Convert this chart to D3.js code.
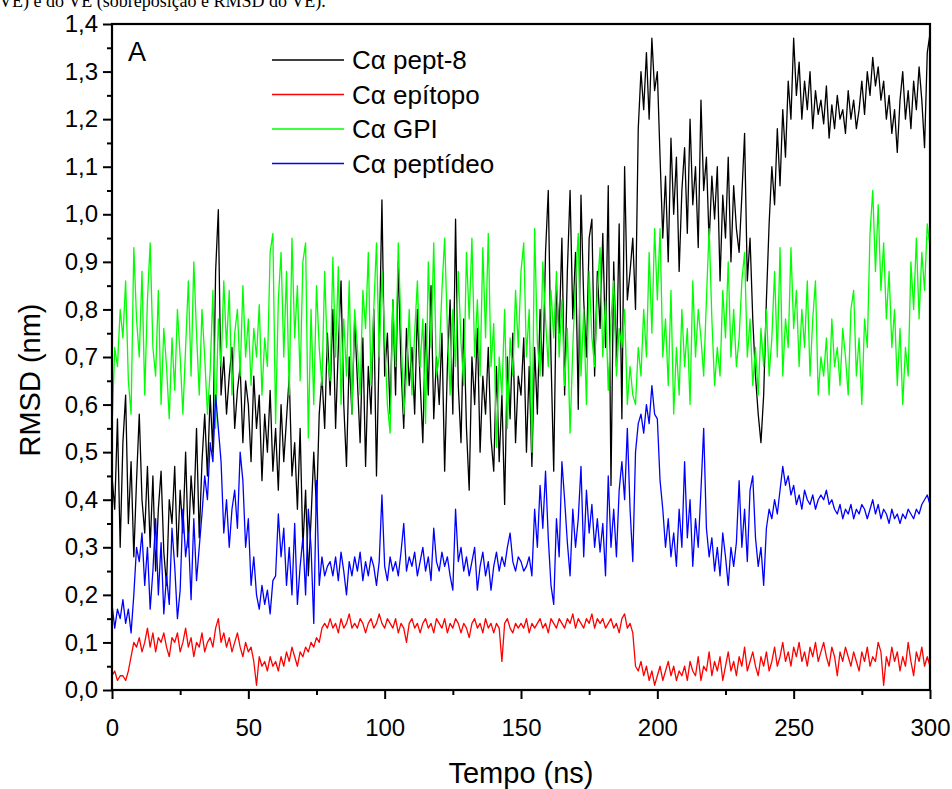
<!DOCTYPE html>
<html lang="pt">
<head>
<meta charset="UTF-8">
<title>RMSD (nm) x Tempo (ns)</title>
<script src="https://d3js.org/d3.v7.min.js"></script>
<style>
  body { margin: 0; background: #fff; }
  svg { display: block; font-family: 'Liberation Sans', Arial, sans-serif; }
  .axis text { font-size: 24px; fill: #000; }
  .axis path, .axis line { stroke: #000; stroke-width: 2px; }
</style>
</head>
<body>
<div id="chart"></div>
<script>
// time step between samples (ns)
const dt = 1;

// Cα pept-8 (nm), one value per ns, 0..300
const pept8 = [
  0.45,0.38,0.57,0.30,0.52,0.62,0.35,0.48,0.28,0.44,
  0.58,0.40,0.33,0.47,0.30,0.45,0.25,0.38,0.46,0.29,
  0.22,0.40,0.35,0.47,0.28,0.42,0.33,0.50,0.30,0.45,
  0.37,0.55,0.32,0.48,0.58,0.45,0.62,0.50,0.88,1.01,
  0.62,0.70,0.58,0.66,0.72,0.55,0.63,0.68,0.52,0.65,
  0.60,0.48,0.66,0.55,0.62,0.44,0.58,0.50,0.63,0.46,
  0.55,0.42,0.60,0.48,0.57,0.66,0.45,0.52,0.38,0.55,
  0.30,0.42,0.24,0.36,0.50,0.38,0.58,0.66,0.55,0.75,
  0.62,0.80,0.55,0.72,0.86,0.60,0.47,0.70,0.58,0.78,
  0.65,0.52,0.74,0.47,0.68,0.58,0.80,0.45,0.72,1.03,
  0.66,0.75,0.58,0.82,0.62,0.90,0.68,0.55,0.76,0.64,
  0.72,0.58,0.80,0.65,0.52,0.77,0.62,0.85,0.57,0.70,
  0.60,0.75,0.46,0.68,0.82,0.58,0.99,0.64,0.52,0.78,
  0.55,0.42,0.70,0.60,0.76,0.50,0.66,0.58,0.72,0.53,
  0.46,0.68,0.48,0.62,0.39,0.70,0.57,0.75,0.52,0.66,
  0.62,0.74,0.50,0.68,0.47,0.72,0.58,0.80,0.66,0.92,
  1.05,0.70,0.46,0.85,0.75,0.95,0.62,0.88,1.05,0.78,
  0.92,0.59,1.04,0.82,0.70,0.95,0.99,0.66,0.88,0.76,
  0.96,0.72,1.06,0.43,0.90,0.68,0.98,0.57,1.10,0.82,
  0.88,0.95,0.80,1.18,1.30,1.22,1.34,1.20,1.37,1.26,
  1.30,1.12,0.95,1.08,0.90,1.16,1.00,1.12,0.88,1.05,
  1.14,0.96,1.20,1.02,1.10,0.93,1.24,1.05,1.12,0.94,
  1.08,0.99,1.10,0.86,1.04,0.95,1.12,0.90,1.06,0.97,
  0.92,1.04,1.17,0.86,0.95,0.78,0.66,0.58,0.52,0.62,
  0.82,0.98,1.10,1.02,1.18,1.06,1.22,1.12,1.28,1.20,
  1.37,1.25,1.32,1.20,1.28,1.22,1.30,1.18,1.26,1.21,
  1.24,1.19,1.27,1.16,1.23,1.18,1.25,1.20,1.22,1.17,
  1.26,1.20,1.24,1.18,1.22,1.28,1.21,1.30,1.25,1.33,
  1.27,1.31,1.24,1.28,1.20,1.25,1.17,1.22,1.13,1.24,
  1.30,1.20,1.26,1.18,1.28,1.22,1.31,1.24,1.14,1.34,
  1.38
];

// Cα epítopo (nm)
const epitopo = [
  0.03,0.04,0.02,0.03,0.03,0.02,0.04,0.07,0.10,0.09,
  0.11,0.08,0.10,0.13,0.09,0.12,0.08,0.11,0.10,0.12,
  0.09,0.07,0.11,0.10,0.12,0.08,0.10,0.13,0.09,0.11,
  0.07,0.10,0.09,0.12,0.08,0.10,0.11,0.09,0.13,0.15,
  0.10,0.12,0.09,0.11,0.08,0.10,0.12,0.09,0.07,0.10,
  0.08,0.09,0.06,0.01,0.07,0.05,0.06,0.04,0.07,0.05,
  0.06,0.04,0.07,0.05,0.08,0.06,0.09,0.07,0.05,0.08,
  0.07,0.09,0.08,0.10,0.09,0.11,0.10,0.13,0.14,0.13,
  0.15,0.13,0.14,0.12,0.15,0.13,0.14,0.16,0.13,0.14,
  0.13,0.15,0.14,0.12,0.14,0.15,0.13,0.14,0.16,0.14,
  0.13,0.15,0.14,0.13,0.15,0.12,0.14,0.13,0.10,0.14,
  0.15,0.13,0.14,0.12,0.14,0.15,0.13,0.14,0.12,0.15,
  0.14,0.13,0.15,0.12,0.14,0.13,0.15,0.14,0.12,0.14,
  0.13,0.11,0.14,0.15,0.13,0.14,0.12,0.15,0.13,0.14,
  0.12,0.14,0.13,0.06,0.14,0.15,0.13,0.12,0.14,0.13,
  0.14,0.13,0.15,0.12,0.14,0.13,0.14,0.15,0.13,0.14,
  0.12,0.15,0.14,0.13,0.15,0.14,0.13,0.15,0.14,0.16,
  0.13,0.15,0.14,0.13,0.15,0.14,0.16,0.13,0.15,0.14,
  0.15,0.13,0.14,0.15,0.13,0.14,0.12,0.15,0.16,0.13,
  0.14,0.12,0.05,0.04,0.06,0.03,0.05,0.02,0.04,0.01,
  0.03,0.05,0.02,0.04,0.06,0.03,0.05,0.02,0.04,0.03,
  0.05,0.02,0.06,0.04,0.03,0.07,0.02,0.05,0.04,0.08,
  0.03,0.06,0.04,0.07,0.02,0.05,0.08,0.04,0.06,0.03,
  0.07,0.05,0.09,0.04,0.06,0.08,0.05,0.03,0.07,0.05,
  0.08,0.04,0.06,0.09,0.05,0.07,0.10,0.06,0.08,0.05,
  0.09,0.07,0.10,0.06,0.08,0.05,0.09,0.07,0.10,0.06,
  0.08,0.10,0.07,0.05,0.09,0.07,0.03,0.08,0.06,0.09,
  0.07,0.05,0.08,0.06,0.04,0.08,0.06,0.09,0.05,0.07,
  0.06,0.10,0.08,0.01,0.07,0.05,0.09,0.06,0.08,0.04,
  0.07,0.05,0.10,0.06,0.03,0.08,0.06,0.09,0.05,0.07,
  0.05
];

// Cα GPI (nm)
const gpi = [
  0.55,0.72,0.68,0.80,0.74,0.86,0.65,0.58,0.93,0.78,
  0.70,0.88,0.62,0.82,0.94,0.72,0.66,0.84,0.60,0.76,
  0.68,0.57,0.74,0.63,0.80,0.70,0.58,0.72,0.86,0.66,
  0.90,0.75,0.62,0.80,0.70,0.58,0.67,0.84,0.55,0.78,
  0.68,0.86,0.72,0.84,0.62,0.75,0.80,0.66,0.85,0.70,
  0.78,0.64,0.76,0.70,0.81,0.62,0.74,0.68,0.92,0.96,
  0.56,0.82,0.92,0.70,0.88,0.62,0.95,0.74,0.85,0.65,
  0.90,0.94,0.53,0.80,0.60,0.85,0.72,0.64,0.88,0.70,
  0.65,0.91,0.70,0.89,0.60,0.78,0.66,0.86,0.58,0.80,
  0.72,0.62,0.84,0.76,0.92,0.64,0.80,0.94,0.70,0.88,
  0.74,0.60,0.54,0.82,0.68,0.94,0.76,0.58,0.66,0.80,
  0.62,0.75,0.86,0.68,0.78,0.56,0.90,0.72,0.94,0.66,
  0.70,0.84,0.95,0.76,0.62,0.80,0.68,0.88,0.73,0.64,
  0.92,0.78,0.95,0.70,0.82,0.66,0.93,0.74,0.96,0.68,
  0.77,0.51,0.70,0.62,0.80,0.55,0.74,0.66,0.84,0.72,
  0.88,0.94,0.70,0.80,0.50,0.97,0.73,0.66,0.90,0.78,
  0.68,0.84,0.74,0.88,0.70,0.82,0.64,0.76,0.54,0.72,
  0.86,0.96,0.66,0.80,0.60,0.88,0.74,0.68,0.84,0.93,
  0.70,0.82,0.63,0.78,0.86,0.66,0.76,0.72,0.80,0.60,
  0.68,0.62,0.60,0.72,0.66,0.80,0.70,0.92,0.75,0.97,
  0.82,0.97,0.70,0.78,0.64,0.84,0.58,0.72,0.62,0.80,
  0.68,0.76,0.60,0.86,0.70,0.80,0.74,0.66,0.82,0.97,
  0.78,0.64,0.72,0.66,0.84,0.74,0.90,0.70,0.80,0.68,
  0.74,0.86,0.92,0.70,0.78,0.64,0.72,0.62,0.76,0.68,
  0.80,0.66,0.74,0.88,0.70,0.93,0.66,0.78,0.72,0.93,
  0.76,0.84,0.68,0.80,0.72,0.86,0.66,0.78,0.86,0.62,
  0.70,0.66,0.74,0.62,0.78,0.68,0.72,0.64,0.76,0.70,
  0.62,0.80,0.84,0.66,0.74,0.60,0.78,0.72,0.96,1.05,
  0.88,1.02,0.84,0.94,0.78,0.88,0.72,0.80,0.64,0.76,
  0.60,0.72,0.66,0.90,0.80,0.95,0.78,0.92,0.84,0.98,
  0.93
];

// Cα peptídeo (nm)
const peptideo = [
  0.18,0.13,0.17,0.15,0.19,0.14,0.17,0.12,0.20,0.30,
  0.27,0.33,0.22,0.30,0.17,0.25,0.36,0.20,0.31,0.16,
  0.24,0.18,0.34,0.26,0.15,0.21,0.38,0.28,0.33,0.19,
  0.36,0.23,0.30,0.37,0.45,0.40,0.52,0.48,0.62,0.55,
  0.48,0.33,0.40,0.30,0.38,0.42,0.34,0.50,0.44,0.30,
  0.36,0.22,0.28,0.20,0.17,0.22,0.18,0.21,0.16,0.23,
  0.24,0.37,0.28,0.34,0.22,0.30,0.20,0.35,0.18,0.26,
  0.32,0.20,0.38,0.30,0.14,0.44,0.22,0.28,0.24,0.26,
  0.27,0.24,0.28,0.23,0.29,0.25,0.20,0.27,0.24,0.28,
  0.25,0.29,0.23,0.27,0.24,0.28,0.26,0.22,0.27,0.41,
  0.26,0.23,0.28,0.25,0.27,0.24,0.29,0.35,0.25,0.28,
  0.26,0.29,0.24,0.27,0.30,0.25,0.28,0.23,0.34,0.27,
  0.25,0.29,0.26,0.28,0.24,0.21,0.38,0.27,0.30,0.25,
  0.28,0.24,0.27,0.30,0.21,0.26,0.29,0.24,0.27,0.21,
  0.26,0.29,0.25,0.28,0.26,0.30,0.33,0.27,0.25,0.28,
  0.27,0.25,0.26,0.28,0.24,0.38,0.30,0.43,0.34,0.46,
  0.32,0.22,0.18,0.36,0.28,0.48,0.40,0.31,0.24,0.38,
  0.30,0.36,0.47,0.28,0.42,0.33,0.39,0.30,0.36,0.29,
  0.35,0.24,0.45,0.30,0.38,0.28,0.42,0.48,0.40,0.55,
  0.38,0.27,0.50,0.56,0.58,0.54,0.60,0.56,0.64,0.58,
  0.57,0.44,0.38,0.30,0.36,0.28,0.33,0.26,0.38,0.30,
  0.48,0.32,0.40,0.26,0.36,0.30,0.42,0.55,0.34,0.28,
  0.32,0.25,0.30,0.24,0.33,0.28,0.22,0.30,0.26,0.31,
  0.44,0.30,0.38,0.27,0.42,0.45,0.32,0.26,0.30,0.22,
  0.34,0.38,0.36,0.40,0.37,0.42,0.47,0.43,0.45,0.41,
  0.43,0.39,0.41,0.38,0.42,0.40,0.39,0.41,0.38,0.40,
  0.41,0.40,0.42,0.39,0.40,0.38,0.37,0.39,0.36,0.38,
  0.37,0.39,0.36,0.38,0.37,0.39,0.38,0.36,0.38,0.40,
  0.37,0.39,0.36,0.38,0.37,0.35,0.38,0.36,0.37,0.35,
  0.37,0.36,0.38,0.37,0.36,0.38,0.37,0.39,0.40,0.41,
  0.39
];

const seriesNames = ["C\u03b1 pept-8", "C\u03b1 ep\u00edtopo", "C\u03b1 GPI", "C\u03b1 pept\u00eddeo"];
const seriesColors = ["#000000", "#ff0000", "#00ff00", "#0000ff"];
const seriesValues = [pept8, epitopo, gpi, peptideo];

const xMajor = [0, 50, 100, 150, 200, 250, 300];
const xMinor = [25, 75, 125, 175, 225, 275];
const yMajor = [0, 0.1, 0.2, 0.3, 0.4, 0.5, 0.6, 0.7, 0.8, 0.9, 1.0, 1.1, 1.2, 1.3, 1.4];
const yMinor = [0.05, 0.15, 0.25, 0.35, 0.45, 0.55, 0.65, 0.75, 0.85, 0.95, 1.05, 1.15, 1.25, 1.35];

const W = 952, H = 789;
const margin = { top: 24, right: 22, bottom: 99, left: 112 };
const width = W - margin.left - margin.right;
const height = H - margin.top - margin.bottom;

const svg = d3.select("#chart").append("svg")
  .attr("width", W)
  .attr("height", H);

// caption line cut by the top of the picture
svg.append("text")
  .attr("x", -1)
  .attr("y", 7)
  .style("font-family", "'Liberation Serif', 'Times New Roman', serif")
  .style("font-size", "18px")
  .text("VE) e do VE (sobreposição e RMSD do VE).");

const g = svg.append("g").attr("transform", `translate(${margin.left},${margin.top})`);

const x = d3.scaleLinear().domain([0, 300]).range([0, width]);
const y = d3.scaleLinear().domain([0, 1.4]).range([height, 0]);

const comma = d => d3.format(".1f")(d).replace(".", ",");

// lines (drawn in Origin order)
const line = d3.line()
  .x((d, i) => x(i * dt))
  .y(d => y(d));

g.append("clipPath").attr("id", "clip")
  .append("rect").attr("width", width).attr("height", height);

seriesValues.forEach((vals, k) => {
  g.append("path")
    .datum(vals)
    .attr("clip-path", "url(#clip)")
    .attr("fill", "none")
    .attr("stroke", seriesColors[k])
    .attr("stroke-width", 1.3)
    .attr("stroke-linejoin", "round")
    .attr("d", line);
});

// axes
g.append("g").attr("class", "axis")
  .attr("transform", `translate(0,${height})`)
  .call(d3.axisBottom(x).tickValues(xMajor).tickSize(9).tickSizeOuter(0).tickPadding(20))
  .call(a => a.select(".domain").remove());
g.append("g").attr("class", "axis")
  .attr("transform", `translate(0,${height})`)
  .call(d3.axisBottom(x).tickValues(xMinor).tickSize(5).tickFormat(""))
  .call(a => a.select(".domain").remove());

g.append("g").attr("class", "axis")
  .call(d3.axisLeft(y).tickValues(yMajor).tickSize(9).tickPadding(5).tickFormat(comma))
  .call(a => a.select(".domain").remove());
g.append("g").attr("class", "axis")
  .call(d3.axisLeft(y).tickValues(yMinor).tickSize(5).tickFormat(""))
  .call(a => a.select(".domain").remove());

// frame
g.append("rect")
  .attr("width", width).attr("height", height)
  .attr("fill", "none").attr("stroke", "#000").attr("stroke-width", 2.2);

// axis titles
svg.append("text")
  .attr("x", margin.left + width / 2)
  .attr("y", 783)
  .attr("text-anchor", "middle")
  .style("font-size", "29px")
  .text("Tempo (ns)");

svg.append("text")
  .attr("transform", "translate(40,380) rotate(-90)")
  .attr("text-anchor", "middle")
  .style("font-size", "29px")
  .text("RMSD (nm)");

// panel letter
g.append("text")
  .attr("x", 16).attr("y", 37)
  .style("font-size", "27px")
  .text("A");

// legend
const legend = g.append("g").attr("transform", "translate(160,36)");
seriesNames.forEach((name, k) => {
  const row = legend.append("g").attr("transform", `translate(0,${k * 34.5})`);
  row.append("line")
    .attr("x1", 0).attr("x2", 72)
    .attr("stroke", seriesColors[k]).attr("stroke-width", 1.3);
  row.append("text")
    .attr("x", 80).attr("y", 9)
    .style("font-size", "26px")
    .text(name);
});
</script>
</body>
</html>
